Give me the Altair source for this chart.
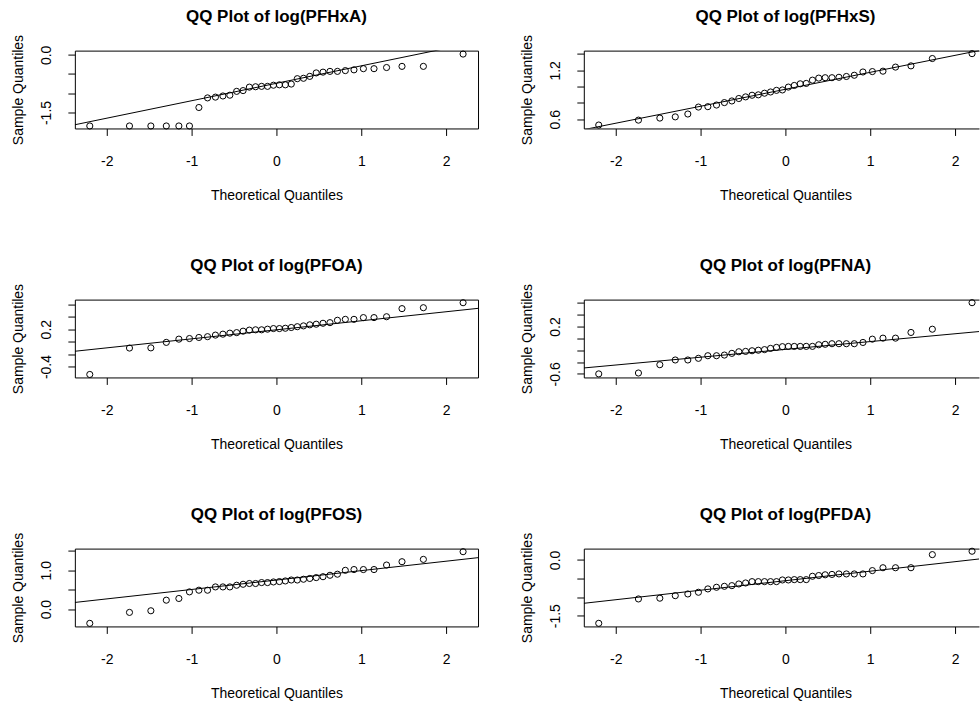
import altair as alt
import pandas as pd

# ---- data -------------------------------------------------------------------
chemicals = ["PFHxA", "PFHxS", "PFOA", "PFNA", "PFOS", "PFDA"]

theoretical_q = [-2.200, -1.732, -1.480, -1.298, -1.150, -1.025, -0.914, -0.812,
                 -0.719, -0.631, -0.549, -0.469, -0.393, -0.319, -0.246, -0.175,
                 -0.105, -0.035, 0.035, 0.105, 0.175, 0.246, 0.319, 0.393,
                 0.469, 0.549, 0.631, 0.719, 0.812, 0.914, 1.025, 1.150,
                 1.298, 1.480, 1.732, 2.200]

pfhxa = [-1.85, -1.85, -1.85, -1.85, -1.85, -1.85, -1.37, -1.12, -1.10, -1.07,
         -1.05, -0.95, -0.93, -0.84, -0.83, -0.82, -0.82, -0.79, -0.78, -0.78,
         -0.76, -0.62, -0.61, -0.56, -0.47, -0.45, -0.43, -0.43, -0.41, -0.39,
         -0.36, -0.36, -0.33, -0.30, -0.30, 0.02]
pfhxs = [0.53, 0.59, 0.615, 0.63, 0.665, 0.75, 0.755, 0.775, 0.805, 0.825,
         0.855, 0.875, 0.895, 0.90, 0.92, 0.935, 0.955, 0.96, 0.995, 1.015,
         1.035, 1.04, 1.08, 1.105, 1.11, 1.11, 1.115, 1.125, 1.14, 1.18,
         1.185, 1.19, 1.24, 1.255, 1.345, 1.405]
pfoa = [-0.527, -0.103, -0.10, -0.012, 0.04, 0.05, 0.067, 0.08, 0.105, 0.12,
        0.136, 0.145, 0.168, 0.185, 0.19, 0.19, 0.20, 0.21, 0.21, 0.215,
        0.227, 0.24, 0.253, 0.27, 0.28, 0.295, 0.305, 0.343, 0.358, 0.358,
        0.386, 0.386, 0.40, 0.53, 0.545, 0.625]
pfna = [-0.60, -0.585, -0.445, -0.365, -0.365, -0.337, -0.293, -0.293, -0.282, -0.253,
        -0.226, -0.22, -0.209, -0.20, -0.19, -0.169, -0.152, -0.14, -0.136, -0.136,
        -0.136, -0.135, -0.135, -0.108, -0.10, -0.09, -0.09, -0.09, -0.09, -0.069,
        -0.013, 0.004, 0.004, 0.10, 0.155, 0.603]
pfos = [-0.367, -0.085, -0.043, 0.23, 0.274, 0.444, 0.487, 0.487, 0.572, 0.572,
        0.572, 0.615, 0.64, 0.66, 0.66, 0.684, 0.684, 0.70, 0.71, 0.726,
        0.75, 0.75, 0.77, 0.79, 0.812, 0.835, 0.872, 0.90, 1.00, 1.02,
        1.02, 1.02, 1.136, 1.222, 1.282, 1.48]
pfda = [-1.706, -1.05, -1.03, -0.962, -0.916, -0.87, -0.78, -0.736, -0.71, -0.692,
        -0.647, -0.62, -0.584, -0.584, -0.584, -0.584, -0.584, -0.539, -0.539, -0.53,
        -0.53, -0.53, -0.44, -0.42, -0.40, -0.39, -0.377, -0.377, -0.377, -0.377,
        -0.287, -0.21, -0.21, -0.21, 0.143, 0.234]
samples = [pfhxa, pfhxs, pfoa, pfna, pfos, pfda]

# qqline (intercept, slope) per panel
line_intercept = [-0.74, 0.968, 0.19, -0.186, 0.749, -0.559]
line_slope = [0.454, 0.208, 0.145, 0.132, 0.243, 0.256]

# y ranges, ticks and shown tick labels per panel
y_domains = [[-1.915, 0.11], [0.488, 1.442], [-0.575, 0.675],
             [-0.66, 0.655], [-0.447, 1.56], [-1.79, 0.305]]
y_ticks = [[-1.5, -1.0, -0.5, 0.0], [0.6, 0.8, 1.0, 1.2, 1.4],
           [-0.4, -0.2, 0.0, 0.2, 0.4, 0.6], [-0.6, -0.4, -0.2, 0.0, 0.2, 0.4, 0.6],
           [0.0, 0.5, 1.0, 1.5], [-1.5, -1.0, -0.5, 0.0]]
y_label_values = [[0.0, -1.5], [0.6, 1.2], [-0.4, 0.2], [-0.6, 0.2], [0.0, 1.0], [-1.5, 0.0]]
y_label_texts = [["0.0", "-1.5"], ["0.6", "1.2"], ["-0.4", "0.2"], ["-0.6", "0.2"],
                 ["0.0", "1.0"], ["-1.5", "0.0"]]

x_ticks = [-2, -1, 0, 1, 2]
x_tick_labels = ["-2", "-1", "0", "1", "2"]
x_range = [-2.376, 2.376]

# ---- styling -----------------------------------------------------------------
FONT = "Liberation Sans"
H = 78
W_LEFT = 404
W_RIGHT = 396
X_RIGHT_MAX = x_range[0] + (x_range[1] - x_range[0]) * W_RIGHT / W_LEFT
BASE = 14


def label_expr(values, texts):
    s = ""
    for v, t in zip(values, texts):
        s += f"abs(datum.value - ({v})) < 1e-9 ? '{t}' : "
    return s + "''"


def panel(i, right):
    name = chemicals[i]
    df = pd.DataFrame({"x": theoretical_q, "y": samples[i]})
    ldf = pd.DataFrame({"x": x_range,
                        "a": [line_intercept[i]] * 2,
                        "b": [line_slope[i]] * 2})
    width = W_RIGHT if right else W_LEFT
    xdom = [x_range[0], X_RIGHT_MAX] if right else x_range
    xscale = alt.Scale(domain=xdom, nice=False, zero=False)
    yscale = alt.Scale(domain=y_domains[i], nice=False, zero=False)

    xaxis = alt.Axis(values=x_ticks, labelExpr=label_expr(x_ticks, x_tick_labels),
                     title="Theoretical Quantiles", titleX=202, titleY=67,
                     titleAlign="center", titleBaseline="middle",
                     titleFontSize=BASE, titleFontWeight="normal", titleColor="black",
                     labelFontSize=BASE, labelColor="black", labelBaseline="middle",
                     labelPadding=26, labelFlush=False, labelOverlap=False,
                     tickSize=7, tickColor="black", tickWidth=1,
                     domain=right, domainColor="black", domainWidth=1, grid=False)
    yaxis = alt.Axis(values=y_ticks[i],
                     labelExpr=label_expr(y_label_values[i], y_label_texts[i]),
                     title="Sample Quantiles", titleX=-56, titleY=H / 2,
                     titleAngle=270, titleAlign="center", titleBaseline="middle",
                     titleFontSize=BASE, titleFontWeight="normal", titleColor="black",
                     labelFontSize=BASE, labelColor="black", labelAngle=270,
                     labelAlign="center", labelBaseline="middle", labelPadding=21,
                     labelFlush=False, labelOverlap=False,
                     tickSize=7, tickColor="black", tickWidth=1,
                     domain=right, domainColor="black", domainWidth=1, grid=False)

    pts = alt.Chart(df).mark_point(shape="circle", filled=False, color="black",
                                   size=38, strokeWidth=1, opacity=1).encode(
        x=alt.X("x:Q", scale=xscale, axis=xaxis),
        y=alt.Y("y:Q", scale=yscale, axis=yaxis),
    )
    if right:
        top_axis = alt.Axis(orient="top", labels=False, ticks=False, title=None,
                            domain=True, domainColor="black", domainWidth=1, grid=False)
        lx = alt.X("x:Q", scale=xscale, axis=top_axis)
    else:
        lx = alt.X("x:Q", scale=xscale, axis=xaxis)
    ln = alt.Chart(ldf).transform_calculate(
        y="datum.a + datum.b * datum.x"
    ).mark_line(color="black", strokeWidth=1, clip=True).encode(
        x=lx,
        y=alt.Y("y:Q", scale=yscale, axis=yaxis),
    )
    title = alt.TitleParams(text=f"QQ Plot of log({name})", fontSize=17,
                            fontWeight="bold", font=FONT, color="black",
                            anchor="middle", frame="group", offset=8,
                            dx=(W_LEFT - width) / 2)
    layer = alt.layer(pts, ln)
    if right:
        layer = layer.resolve_axis(x="independent")
        view = alt.ViewBackground(stroke="transparent")
    else:
        view = alt.ViewBackground(stroke="black", strokeWidth=1)
    return layer.properties(width=width, height=H, title=title, view=view)


rows = []
for r in range(3):
    rows.append(alt.hconcat(panel(2 * r, False), panel(2 * r + 1, True),
                            spacing=106, bounds="flush"))

chart = alt.vconcat(*rows, spacing=249.5, bounds="flush").properties(
    padding={"left": 11, "top": 7, "right": 0, "bottom": 0},
    background="white",
).configure(font=FONT).configure_axis(labelFont=FONT, titleFont=FONT)

chart.save("out.html", embed_options={"renderer": "svg", "actions": False})
